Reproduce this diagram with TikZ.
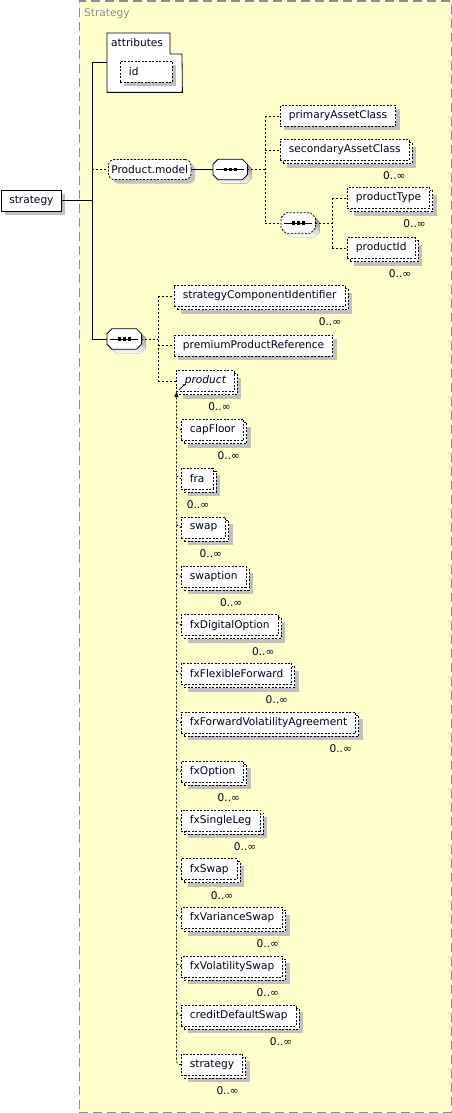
\documentclass[tikz,border=0pt]{standalone}
\usepackage{fontspec}
\setmainfont{DejaVu Sans}
\usetikzlibrary{arrows.meta,positioning,shadows}
\definecolor{canvas}{HTML}{FFFFCC}
\definecolor{frame}{HTML}{8C8C8C}
\definecolor{shade}{HTML}{C0C0C0}
\definecolor{ink}{HTML}{00001A}
% outline of a compositor node
\newcommand\seqoutline[1]{([xshift=5pt]#1.north west) -- ([xshift=-5pt]#1.north east)
  -- ([yshift=-5pt]#1.north east) -- ([yshift=5pt]#1.south east)
  -- ([xshift=-5pt]#1.south east) -- ([xshift=5pt]#1.south west)
  -- ([yshift=5pt]#1.south west) -- ([yshift=-5pt]#1.north west) -- cycle}

\begin{document}
\begin{tikzpicture}[
  x=1pt,y=-1pt,
  font=\fontsize{10.6}{12}\selectfont,
  every node/.style={text=ink},
  wire/.style={draw,line width=0.8pt},
  link/.style={draw,line width=0.8pt,dash pattern=on 2pt off 2pt},
  fine/.style={dash pattern=on 2pt off 1.5pt},
  box/.style={draw,line width=0.8pt,fine,fill=white,
    minimum height=21pt,inner xsep=8.5pt,inner ysep=0pt,anchor=west},
  one/.style={box,general shadow={fill=shade,draw=none,shadow xshift=4pt,shadow yshift=-4pt}},
  many/.style={box,
    general shadow={fill=shade,draw=none,shadow xshift=7pt,shadow yshift=-7pt},
    general shadow={fill=white,draw=black,line width=0.8pt,fine,
      shadow xshift=3pt,shadow yshift=-3pt}},
  seqbox/.style={minimum width=34pt,minimum height=20pt,inner sep=0pt,anchor=west},
  occurs/.style={anchor=north east,inner sep=0pt}
]
\useasboundingbox (0,0) rectangle (452,1113);

% panel
\node[draw=frame,line width=1.2pt,dash pattern=on 9pt off 5pt,fill=canvas,anchor=north west,
  minimum width=372pt,minimum height=1111pt,inner sep=0pt] (panel) at (78.5,0.5) {};
\node[text=frame,anchor=west,inner sep=0pt] (title) at (84,14) {Strategy};

% root and trunk
\node[draw,line width=0.8pt,fill=white,minimum width=60pt,minimum height=21pt,inner sep=0pt,anchor=west,
  general shadow={fill=shade,draw=none,shadow xshift=4pt,shadow yshift=-4pt}] (root) at (1,200.5) {strategy};
\coordinate (tk) at (92,62);

% attributes
\node[anchor=north west,minimum width=75pt,minimum height=59pt,inner sep=0pt] (attrs) at (107,33) {};
\draw[wire,fill=white] (attrs.north west) -- ++(63,0) -- ++(0,21) -- ++(12,0)
  -- (attrs.south east) -- (attrs.south west) -- cycle;
\node[anchor=west,inner sep=0pt] (attrtitle) at (111,43) {attributes};
\node[one,text width=35pt,align=left] (id) at (120,72) {id};

% Product.model group
\node[draw,line width=0.8pt,fine,fill=white,rounded corners=6pt,
  minimum height=20pt,inner xsep=3pt,inner ysep=0pt,anchor=west,
  general shadow={fill=shade,draw=none,shadow xshift=4pt,shadow yshift=-4pt}] (pm) at (108,169.5) {Product.model};
\node[seqbox] (s1) at (213,169.5) {};
\node[one] (pac) at (280,116) {primaryAssetClass};
\node[many] (sac) at (280,150) {secondaryAssetClass};
\node[seqbox] (s2) at (281,223) {};
\node[many] (pt) at (347,198) {productType};
\node[many] (pid) at (347,248) {productId};

% main sequence
\node[seqbox] (s3) at (107,339) {};
\node[many] (sci) at (174,296) {strategyComponentIdentifier};
\node[one] (ppr) at (174,345.5) {premiumProductReference};
\node[many,font=\fontsize{10.6}{12}\selectfont\itshape] (prod) at (176,381) {product};

% substitution group
\foreach \name [count=\i] in {capFloor,fra,swap,swaption,fxDigitalOption,fxFlexibleForward,
  fxForwardVolatilityAgreement,fxOption,fxSingleLeg,fxSwap,fxVarianceSwap,fxVolatilitySwap,
  creditDefaultSwap,strategy}
  \node[many] (m\i) at (181,430+48.8*\i-48.8) {\name};

% compositors
\foreach \s/\pat in {s1/solid,s3/solid,s2/fine} {
  \fill[shade,transform canvas={xshift=4pt,yshift=-4pt}] \seqoutline{\s};
  \draw[line width=0.8pt,fill=white,\pat] \seqoutline{\s};
  \draw[line width=0.8pt] ([xshift=-14pt]\s.center) -- ([xshift=14pt]\s.center);
  \foreach \d in {-5,0,5}
    \fill ([xshift=\d pt]\s.center) ++(-1.6,-1.6) rectangle ++(3.2,3.2);
}

% occurrences
\foreach \n in {sac,pt,pid,sci,prod,m1,m2,m3,m4,m5,m6,m7,m8,m9,m10,m11,m12,m13,m14}
  \node[occurs] (o-\n) at ([xshift=-4pt,yshift=-11pt]\n.south east) {0..∞};

% connectors
\draw[wire] (root.east) -- (root.east -| tk);
\draw[wire] (attrs.west |- tk) -- (tk) |- (s3.west);
\draw[link] (pm.west -| tk) -- (pm.west);
\draw[wire] (pm.east) -- (s1.west);
\coordinate (b1) at (265,0);
\draw[link] (s1.east) -- (s1.east -| b1);
\draw[link] (pac.west -| b1) -- (s2.west -| b1);
\foreach \n in {pac,sac,s2}
  \draw[link] (\n.west -| b1) -- (\n.west);
\coordinate (b2) at (332,0);
\draw[link] (s2.east) -- (s2.east -| b2);
\draw[link] (pt.west -| b2) -- (pid.west -| b2);
\foreach \n in {pt,pid}
  \draw[link] (\n.west -| b2) -- (\n.west);
\coordinate (b3) at (158,0);
\draw[link] (s3.east) -- (s3.east -| b3);
\draw[link] (sci.west -| b3) -- (prod.west -| b3);
\foreach \n in {sci,ppr,prod}
  \draw[link] (\n.west -| b3) -- (\n.west);
\coordinate (b4) at (176.5,0);
\draw[link,rounded corners=3pt,-{Triangle[length=5pt,width=4pt]}] (m14.west) -- (m14.west -| b4) -- (prod.south -| b4);
\foreach \i in {1,...,13}
  \draw[link] ([yshift=3pt]m\i.west -| b4) -- (m\i.west);
\draw[line width=0.7pt,-{Latex[length=2.5pt,width=2.5pt]}] ([xshift=3pt,yshift=2pt]prod.south west) -- ++(6,-6);
\end{tikzpicture}
\end{document}
